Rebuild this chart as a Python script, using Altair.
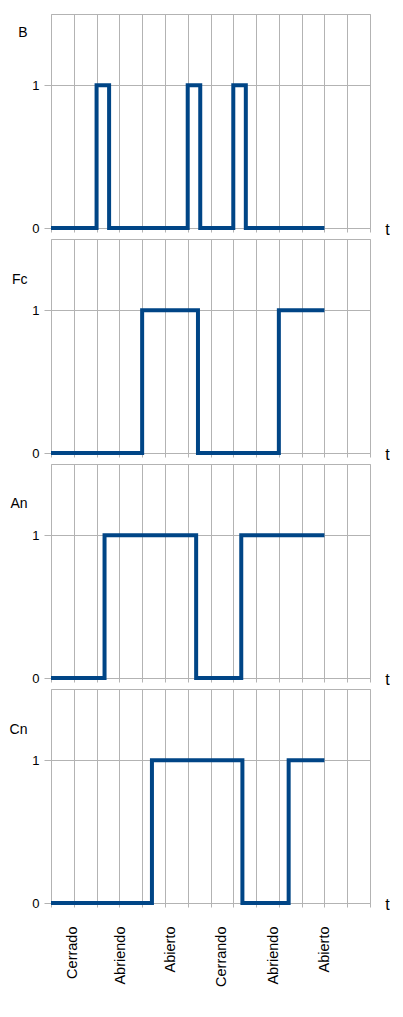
import altair as alt
import pandas as pd

GRID = "#b3b3b3"
LINE = "#004586"
FONT = "Liberation Sans"

# time grid (categories along t)
t_ticks = list(range(0, 15))

# signal transitions (t, value), step-after
B_t = [0, 2, 2.55, 6, 6.55, 8, 8.55, 12]
B_v = [0, 1, 0, 1, 0, 1, 0, 0]
Fc_t = [0, 4, 6.45, 10, 12]
Fc_v = [0, 1, 0, 1, 1]
An_t = [0, 2.35, 6.37, 8.35, 12]
An_v = [0, 1, 0, 1, 1]
Cn_t = [0, 4.43, 8.4, 10.43, 12]
Cn_v = [0, 1, 0, 1, 1]

# state labels along t
state_labels = ["Cerrado", "Abriendo", "Abierto", "Cerrando", "Abriendo", "Abierto"]
state_pos = [0.96, 3.04, 5.23, 7.49, 9.75, 12.0]

W, H = 319, 214


def panel(name, ts, vs, title_y):
    df = pd.DataFrame({"t": ts, "v": vs})
    return alt.Chart(df).mark_line(
        interpolate="step-after", color=LINE, strokeWidth=4,
        strokeCap="butt", strokeJoin="miter"
    ).encode(
        x=alt.X("t:Q", scale=alt.Scale(domain=[0, 14], nice=False, zero=False),
                axis=alt.Axis(values=t_ticks, labels=False, ticks=True, tickSize=4,
                              tickColor=GRID, domain=False, grid=True, gridColor=GRID,
                              title="t", titleAngle=0, titleX=336, titleY=1,
                              titleAlign="center", titleBaseline="middle",
                              titleFontSize=16, titleFontWeight="normal")),
        y=alt.Y("v:Q", scale=alt.Scale(domain=[0, 1.5], nice=False, zero=False),
                axis=alt.Axis(values=[0, 1], format="d", tickSize=7, tickColor=GRID,
                              labelPadding=5, labelFontSize=13, domain=False,
                              grid=True, gridColor=GRID,
                              title=name, titleAngle=0, titleX=-24, titleY=title_y,
                              titleAlign="right", titleBaseline="middle",
                              titleFontSize=14, titleFontWeight="normal")),
    ).properties(width=W, height=H, view=alt.ViewBackground(stroke=GRID))


p1 = panel("B", B_t, B_v, 18)
p2 = panel("Fc", Fc_t, Fc_v, 40)
p3 = panel("An", An_t, An_v, 39)
p4 = panel("Cn", Cn_t, Cn_v, 40)

lab_df = pd.DataFrame({"pos": state_pos, "label": state_labels})
expr = ("[" + ",".join("'%s'" % s for s in state_labels) + "][indexof(["
        + ",".join(str(p) for p in state_pos) + "], datum.value)]")

strip = alt.Chart(lab_df).mark_point(opacity=0).encode(
    x=alt.X("pos:Q", scale=alt.Scale(domain=[0, 14], nice=False, zero=False),
            axis=alt.Axis(values=state_pos, labelExpr=expr, labelAngle=270,
                          labelAlign="right", labelBaseline="middle", labelPadding=8,
                          ticks=False, domain=False, grid=False, labelFontSize=14.5,
                          labelOverlap=False, labelFlush=False, labelBound=False,
                          title=""))
).properties(width=W, height=4, view=alt.ViewBackground(strokeOpacity=0))

chart = alt.vconcat(p1, p2, p3, p4, strip, spacing=11, bounds="flush").properties(
    padding={"left": 0, "top": 5, "right": 0, "bottom": 0}
).configure_axis(
    labelFont=FONT, titleFont=FONT, labelColor="#000000", titleColor="#000000"
).configure_view(stroke=GRID)

chart.save("out.html", embed_options={"renderer": "svg", "actions": False})
